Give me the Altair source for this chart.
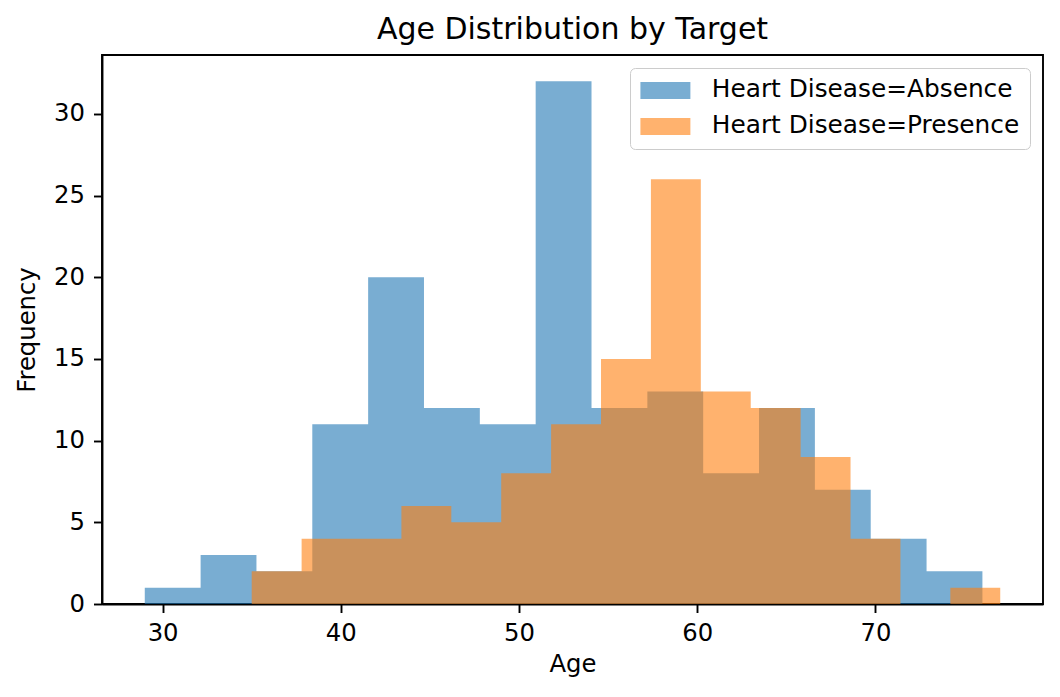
import altair as alt
import numpy as np
import pandas as pd

# Histogram data (15 bins per group)
groups = ["Heart Disease=Absence", "Heart Disease=Presence"]
absence_range = (29, 76)
absence_counts = [1, 3, 2, 11, 20, 12, 11, 32, 12, 13, 8, 12, 7, 4, 2]
presence_range = (35, 77)
presence_counts = [2, 4, 4, 6, 5, 8, 11, 15, 26, 13, 12, 9, 4, 0, 1]
x_ticks = [30, 40, 50, 60, 70]
y_ticks = [0, 5, 10, 15, 20, 25, 30]
colors = ["#1f77b4", "#ff7f0e"]

# Step outline of each histogram: the value holds from one bin edge to the next
rows = []
for k, (g, rng, counts) in enumerate([(groups[0], absence_range, absence_counts),
                                      (groups[1], presence_range, presence_counts)]):
    edges = np.linspace(rng[0], rng[1], len(counts) + 1)
    for i, c in enumerate(counts):
        rows.append({"edge": edges[i], "count": c, "group": g, "k": k})
    rows.append({"edge": edges[-1], "count": counts[-1], "group": g, "k": k})
df = pd.DataFrame(rows)

FONT = "DejaVu Sans"
FS = 24.3
LW = 1.9

chart = alt.Chart(df).mark_area(opacity=0.6, interpolate="step-after", strokeWidth=0).encode(
    x=alt.X("edge:Q",
            scale=alt.Scale(domain=[26.6, 79.4], nice=False, zero=False),
            axis=alt.Axis(title="Age", values=x_ticks, format="d", grid=False,
                          labelFontSize=FS, titleFontSize=FS, labelFont=FONT, titleFont=FONT,
                          titleFontWeight="normal", labelColor="black", titleColor="black",
                          tickSize=8.5, tickWidth=LW, tickColor="black",
                          domainColor="black", domainWidth=LW,
                          labelPadding=9, titlePadding=7, labelFlush=False)),
    y=alt.Y("count:Q",
            scale=alt.Scale(domain=[0, 33.6], nice=False),
            axis=alt.Axis(title="Frequency", values=y_ticks, format="d", grid=False,
                          labelFontSize=FS, titleFontSize=FS, labelFont=FONT, titleFont=FONT,
                          titleFontWeight="normal", labelColor="black", titleColor="black",
                          tickSize=8.5, tickWidth=LW, tickColor="black",
                          domainColor="black", domainWidth=LW,
                          labelPadding=9, titlePadding=14, labelFlush=False)),
    y2=alt.datum(0),
    order=alt.Order("k:Q"),
    color=alt.Color("group:N",
                    scale=alt.Scale(domain=groups, range=colors),
                    legend=alt.Legend(title=None, orient="none", legendX=528, legendY=13,
                                      labelFont=FONT, labelFontSize=24.8, labelColor="black",
                                      labelLimit=500,
                                      symbolType="M-2.94,-1L2.94,-1L2.94,1L-2.94,1Z",
                                      symbolSize=289, symbolOpacity=0.6, symbolStrokeWidth=0,
                                      symbolOffset=13, labelOffset=34, rowPadding=10,
                                      padding=10, fillColor="white", strokeColor="#cccccc",
                                      cornerRadius=5)),
).properties(
    width=941,
    height=549,
    title=alt.TitleParams("Age Distribution by Target", fontSize=30, font=FONT,
                          fontWeight="normal", color="black", offset=10),
    padding={"left": 94, "top": 47, "right": 9, "bottom": 85},
    autosize=alt.AutoSizeParams(type="none"),
).configure_view(
    stroke="black", strokeWidth=LW
)

chart.save("out.html", embed_options={"renderer": "svg", "actions": False})
